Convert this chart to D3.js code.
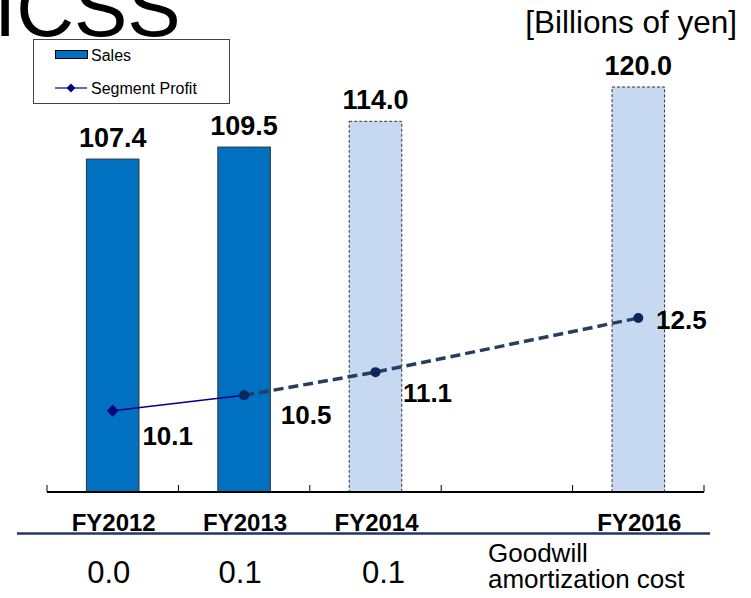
<!DOCTYPE html>
<html>
<head>
<meta charset="utf-8">
<script src="https://cdn.jsdelivr.net/npm/d3@7"></script>
<style>
  body { margin: 0; background: #fff; }
  text { font-family: "Liberation Sans", Arial, sans-serif; }
</style>
</head>
<body>
<svg id="chart" width="751" height="598"></svg>
<script>
const categories = ["FY2012", "FY2013", "FY2014", "FY2015", "FY2016"];
const categoryLabels = ["FY2012", "FY2013", "FY2014", "", "FY2016"];
const sales = [107.4, 109.5, 114.0, null, 120.0];
const forecast = [false, false, true, false, true];
const profit = [10.1, 10.5, 11.1, null, 12.5];
const goodwill = ["0.0", "0.1", "0.1"];

const svg = d3.select("#chart");
const baseY = 492;

const x = d3.scaleBand()
    .domain(categories)
    .range([47, 704])
    .paddingInner(0.6)
    .paddingOuter(0.3);

const ySales = d3.scaleLinear().domain([49.2, 120]).range([baseY, 87]);
const yProfit = d3.scaleLinear().domain([8, 12.5]).range([baseY, 318]);

// title fragment at the top (cut off by the slide edge)
svg.append("text")
    .attr("x", -6)
    .attr("y", 36)
    .style("font-size", "80px")
    .text("ICSS");

svg.append("text")
    .attr("x", 737)
    .attr("y", 33)
    .attr("text-anchor", "end")
    .style("font-size", "31.5px")
    .text("[Billions of yen]");

// bars
const salesData = categories.map((c, i) => ({ cat: c, v: sales[i], f: forecast[i] }))
    .filter(d => d.v != null);

svg.selectAll(".bar")
    .data(salesData)
    .enter().append("rect")
    .attr("class", "bar")
    .attr("x", d => x(d.cat))
    .attr("y", d => ySales(d.v))
    .attr("width", x.bandwidth())
    .attr("height", d => baseY - ySales(d.v))
    .attr("fill", d => d.f ? "#C6D9F1" : "#0070C0")
    .attr("stroke", "#333")
    .attr("stroke-width", 1)
    .attr("stroke-dasharray", d => d.f ? "3,2" : null);

svg.selectAll(".barLabel")
    .data(salesData)
    .enter().append("text")
    .attr("class", "barLabel")
    .attr("x", d => x(d.cat) + x.bandwidth() / 2)
    .attr("y", d => ySales(d.v) - 12)
    .attr("text-anchor", "middle")
    .style("font-size", "27px")
    .style("font-weight", "bold")
    .text(d => d.v.toFixed(1));

// axis line and ticks
svg.append("line")
    .attr("x1", 47).attr("x2", 704)
    .attr("y1", baseY).attr("y2", baseY)
    .attr("stroke", "#000").attr("stroke-width", 2);

const tickXs = categories.map(c => x(c) - x.step() * x.paddingInner() / 2);
tickXs.push(704);
tickXs[0] = 47;
svg.selectAll(".tick")
    .data(tickXs)
    .enter().append("line")
    .attr("x1", d => d).attr("x2", d => d)
    .attr("y1", baseY).attr("y2", baseY - 7)
    .attr("stroke", "#000").attr("stroke-width", 1);

// profit line
const profitData = categories.map((c, i) => ({ cat: c, v: profit[i] }))
    .filter(d => d.v != null);
const cx = d => x(d.cat) + x.bandwidth() / 2;

const line = d3.line().x(cx).y(d => yProfit(d.v));

svg.append("path")
    .datum(profitData.slice(0, 2))
    .attr("d", line)
    .attr("fill", "none")
    .attr("stroke", "#000080")
    .attr("stroke-width", 1.5);

svg.append("path")
    .datum(profitData.slice(1))
    .attr("d", line)
    .attr("fill", "none")
    .attr("stroke", "#243F60")
    .attr("stroke-width", 3.5)
    .attr("stroke-dasharray", "10,5");

svg.append("path")
    .attr("d", d3.symbol(d3.symbolDiamond2, 90)())
    .attr("transform", `translate(${cx(profitData[0])},${yProfit(profitData[0].v)})`)
    .attr("fill", "#000080");

svg.selectAll(".pt")
    .data(profitData.slice(1))
    .enter().append("circle")
    .attr("class", "pt")
    .attr("cx", cx)
    .attr("cy", d => yProfit(d.v))
    .attr("r", 5)
    .attr("fill", "#0B2560");

const profitLabelOffsets = [[55, 34], [62, 29], [52, 30], [43, 11]];
svg.selectAll(".pLabel")
    .data(profitData)
    .enter().append("text")
    .attr("class", "pLabel")
    .attr("x", (d, i) => cx(d) + profitLabelOffsets[i][0])
    .attr("y", (d, i) => yProfit(d.v) + profitLabelOffsets[i][1])
    .attr("text-anchor", "middle")
    .style("font-size", "26px")
    .style("font-weight", "bold")
    .text(d => d.v.toFixed(1));

// category labels
svg.selectAll(".cat")
    .data(categories)
    .enter().append("text")
    .attr("class", "cat")
    .attr("x", c => x(c) + x.bandwidth() / 2 + 1)
    .attr("y", 531)
    .attr("text-anchor", "middle")
    .style("font-size", "24px")
    .style("font-weight", "bold")
    .text((c, i) => categoryLabels[i]);

svg.append("line")
    .attr("x1", 17).attr("x2", 710)
    .attr("y1", 533.5).attr("y2", 533.5)
    .attr("stroke", "#1F3864").attr("stroke-width", 2.5);

// goodwill amortization row
const gwShift = [-4, -4, 8];
svg.selectAll(".gw")
    .data(goodwill)
    .enter().append("text")
    .attr("class", "gw")
    .attr("x", (d, i) => x(categories[i]) + x.bandwidth() / 2 + gwShift[i])
    .attr("y", 583)
    .attr("text-anchor", "middle")
    .style("font-size", "31px")
    .text(d => d);

const gwText = svg.append("text")
    .attr("x", 488)
    .attr("y", 562)
    .style("font-size", "26px");
gwText.append("tspan").attr("x", 488).text("Goodwill");
gwText.append("tspan").attr("x", 488).attr("dy", 26).text("amortization cost");

// legend
const lg = svg.append("g");
lg.append("rect")
    .attr("x", 33.5).attr("y", 39.5)
    .attr("width", 196).attr("height", 64)
    .attr("fill", "#fff")
    .attr("stroke", "#444").attr("stroke-width", 1);
lg.append("rect")
    .attr("x", 55.5).attr("y", 50.5)
    .attr("width", 32).attr("height", 8)
    .attr("fill", "#0070C0")
    .attr("stroke", "#000").attr("stroke-width", 1);
lg.append("text")
    .attr("x", 91).attr("y", 61)
    .style("font-size", "16px")
    .text("Sales");
lg.append("line")
    .attr("x1", 55).attr("x2", 87)
    .attr("y1", 88).attr("y2", 88)
    .attr("stroke", "#000080").attr("stroke-width", 1.2);
lg.append("path")
    .attr("d", d3.symbol(d3.symbolDiamond2, 50)())
    .attr("transform", "translate(71,88)")
    .attr("fill", "#000080");
lg.append("text")
    .attr("x", 91).attr("y", 94)
    .style("font-size", "16px")
    .text("Segment Profit");
</script>
</body>
</html>
